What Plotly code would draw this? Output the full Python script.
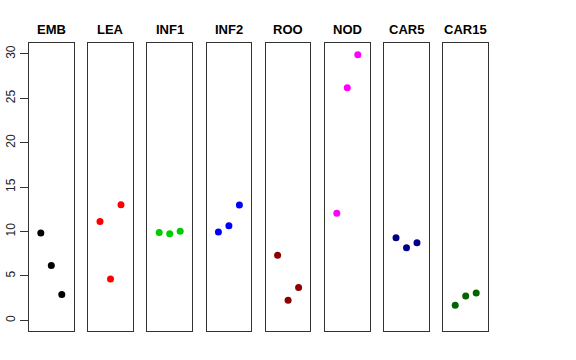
import plotly.graph_objects as go

categories = ["EMB", "LEA", "INF1", "INF2", "ROO", "NOD", "CAR5", "CAR15"]
replicates = [1, 2, 3]
values = {
    "EMB": [9.85, 6.18, 2.92],
    "LEA": [11.12, 4.65, 13.03],
    "INF1": [9.89, 9.74, 10.03],
    "INF2": [9.96, 10.64, 13.0],
    "ROO": [7.34, 2.25, 3.71],
    "NOD": [12.06, 26.2, 29.9],
    "CAR5": [9.29, 8.17, 8.73],
    "CAR15": [1.69, 2.73, 3.07],
}
colors = ["#000000", "#FF0000", "#00CD00", "#0000FF", "#8B0000", "#FF00FF", "#00008B", "#006400"]
y_ticks = [0, 5, 10, 15, 20, 25, 30]

W, H = 576, 360
left0, step, pw = 29.0, 59.2, 44.6
top_px, bot_px = 43.3, 331.0
title_px = 29

fig = go.Figure()
layout = dict(
    width=W, height=H,
    margin=dict(l=0, r=0, t=0, b=0, autoexpand=False),
    paper_bgcolor="white", plot_bgcolor="white",
    showlegend=False,
    font=dict(family="Liberation Sans, Arial, sans-serif", color="black"),
)
annotations = []
for i, cat in enumerate(categories):
    n = i + 1
    xa = "x" if n == 1 else f"x{n}"
    ya = "y" if n == 1 else f"y{n}"
    fig.add_trace(go.Scatter(
        x=replicates, y=values[cat], mode="markers",
        marker=dict(color=colors[i], size=7),
        xaxis=xa, yaxis=ya, hoverinfo="skip",
    ))
    l = (left0 + i * step) / W
    r = (left0 + i * step + pw) / W
    xkey = "xaxis" if n == 1 else f"xaxis{n}"
    ykey = "yaxis" if n == 1 else f"yaxis{n}"
    layout[xkey] = dict(
        domain=[l, r], range=[-0.125, 4.125], anchor=ya, automargin=False,
        showline=True, mirror=True, linecolor="#333333", linewidth=1,
        showgrid=False, zeroline=False, showticklabels=False, ticks="",
    )
    ydict = dict(
        domain=[(H - bot_px) / H, (H - top_px) / H], range=[-1.2, 31.2], anchor=xa,
        automargin=False,
        showline=True, mirror=True, linecolor="#333333", linewidth=1,
        showgrid=False, zeroline=False,
    )
    if n == 1:
        ydict.update(
            tickmode="array", tickvals=y_ticks, ticktext=[str(t) for t in y_ticks],
            ticks="outside", ticklen=8, tickcolor="#333333", tickangle=-90,
            tickfont=dict(size=12, color="#222222"), showticklabels=True,
        )
    else:
        ydict.update(showticklabels=False, ticks="")
    layout[ykey] = ydict
    annotations.append(dict(
        x=(l + r) / 2, y=(H - title_px) / H, xref="paper", yref="paper",
        text=f"<b>{cat}</b>", showarrow=False, xanchor="center", yanchor="middle",
        font=dict(size=13, color="black"),
    ))
layout["annotations"] = annotations
fig.update_layout(**layout)
fig.write_html(
    "out.html",
    config={"displayModeBar": False, "staticPlot": True},
    post_script="document.body.style.margin='0';document.body.style.overflow='hidden';",
)
